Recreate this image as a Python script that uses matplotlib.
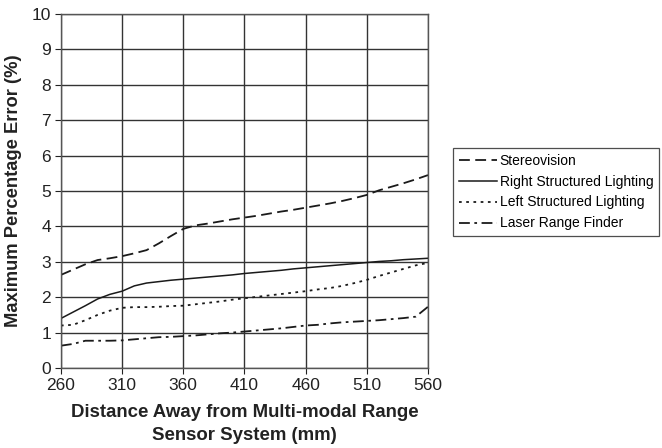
import matplotlib
matplotlib.use("Agg")
import matplotlib.pyplot as plt

plt.rcParams['font.family'] = ['Liberation Sans', 'DejaVu Sans']

# distance (mm)
dist = [260, 270, 280, 290, 300, 310, 320, 330, 340, 350, 360, 370, 380, 390, 400,
        410, 420, 430, 440, 450, 460, 470, 480, 490, 500, 510, 520, 530, 540, 550, 560]

stereo = [2.63, 2.78, 2.93, 3.05, 3.10, 3.16, 3.24, 3.33, 3.52, 3.73, 3.93, 4.03, 4.08, 4.14, 4.20,
          4.25, 4.30, 4.36, 4.42, 4.47, 4.53, 4.59, 4.65, 4.72, 4.80, 4.89, 5.02, 5.12, 5.22, 5.33, 5.45]
right_sl = [1.40, 1.58, 1.76, 1.95, 2.08, 2.17, 2.32, 2.40, 2.44, 2.48, 2.51, 2.54, 2.57, 2.60, 2.63,
            2.67, 2.70, 2.73, 2.76, 2.80, 2.83, 2.86, 2.89, 2.92, 2.95, 2.98, 3.01, 3.03, 3.06, 3.08, 3.10]
left_sl = [1.20, 1.22, 1.35, 1.50, 1.62, 1.70, 1.72, 1.72, 1.73, 1.75, 1.76, 1.80, 1.84, 1.88, 1.93,
           1.97, 2.01, 2.05, 2.09, 2.13, 2.17, 2.22, 2.26, 2.32, 2.40, 2.49, 2.60, 2.70, 2.80, 2.90, 2.97]
laser = [0.63, 0.68, 0.77, 0.77, 0.77, 0.78, 0.81, 0.84, 0.87, 0.88, 0.90, 0.92, 0.95, 0.98, 1.00,
         1.03, 1.06, 1.09, 1.12, 1.16, 1.20, 1.22, 1.26, 1.29, 1.31, 1.33, 1.35, 1.38, 1.41, 1.45, 1.73]

xticks = [260, 310, 360, 410, 460, 510, 560]
yticks = list(range(0, 11))

fig = plt.figure(figsize=(6.62, 4.48), dpi=100)
ax = fig.add_axes([0.092, 0.1786, 0.5545, 0.79])

lc = '#1a1a1a'
ax.plot(dist, stereo, color=lc, lw=1.3, linestyle=(0, (6, 3)), label='Stereovision')
ax.plot(dist, right_sl, color=lc, lw=1.1, linestyle='-', label='Right Structured Lighting')
ax.plot(dist, left_sl, color=lc, lw=1.3, linestyle=(0, (1.5, 2.5)), label='Left Structured Lighting')
ax.plot(dist, laser, color=lc, lw=1.3, linestyle=(0, (6, 2.5, 1.5, 2.5)), label='Laser Range Finder')

ax.set_xlim(260, 560)
ax.set_ylim(0, 10)
ax.set_xticks(xticks)
ax.set_yticks(yticks)
ax.grid(True, color='#333333', lw=1.0)
ax.set_axisbelow(True)
for s in ax.spines.values():
    s.set_color('#555555')
    s.set_linewidth(1.0)
ax.tick_params(labelsize=12.5, colors='#222222', length=4, direction='out', pad=3)

ax.set_xlabel('Distance Away from Multi-modal Range\nSensor System (mm)', fontsize=13.4,
              fontweight='bold', color='#222222', labelpad=8, linespacing=1.45)
ax.set_ylabel('Maximum Percentage Error (%)', fontsize=13.2, fontweight='bold',
              color='#222222', labelpad=7)

leg = fig.legend(loc='upper left', bbox_to_anchor=(453 / 662, 1 - 148 / 448),
                 fontsize=10, frameon=True, fancybox=False, handlelength=2.8,
                 handletextpad=0.15, borderpad=0.4, labelspacing=0.5, borderaxespad=0)
leg.get_frame().set_edgecolor('#222222')
leg.get_frame().set_linewidth(0.9)

fig.savefig('out.png', dpi=100)
